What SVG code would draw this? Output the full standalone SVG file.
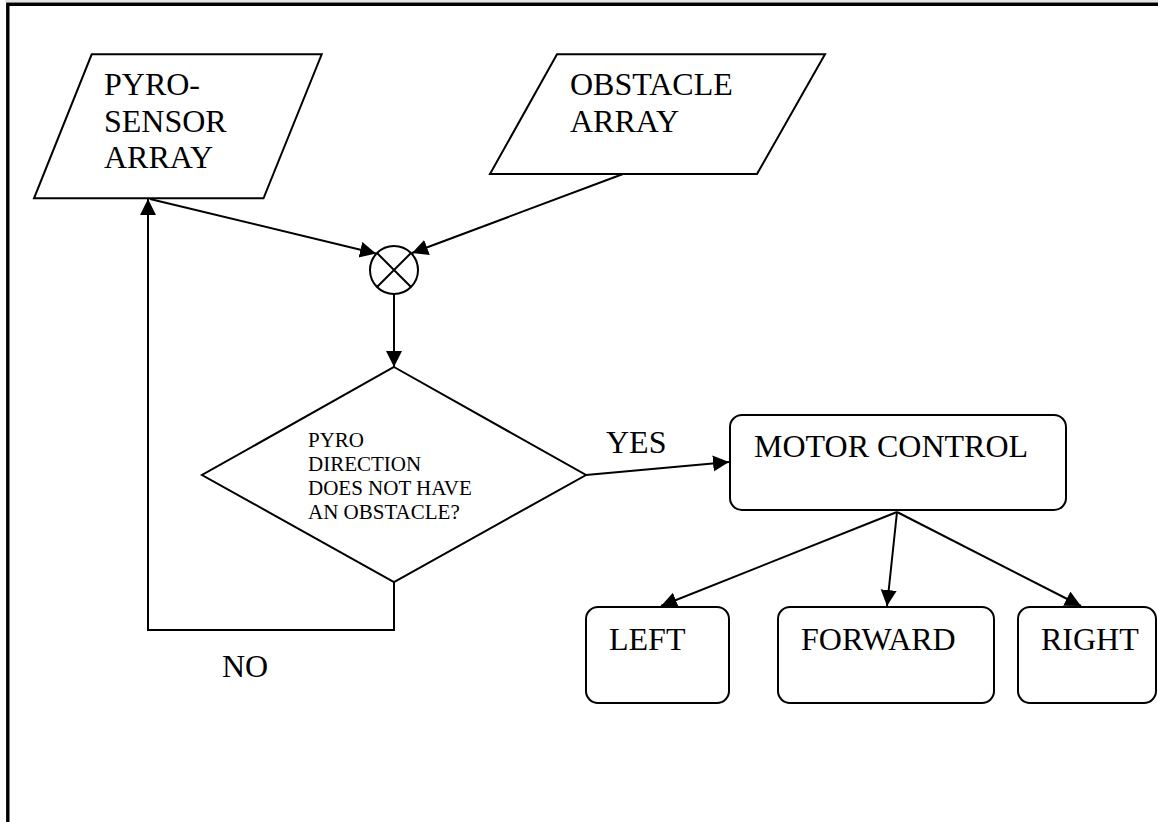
<svg xmlns="http://www.w3.org/2000/svg" width="1158" height="822" viewBox="0 0 1158 822">
<defs>
<marker id="ah" markerUnits="userSpaceOnUse" markerWidth="17" markerHeight="17" refX="16" refY="8" orient="auto">
<path d="M0,0 L16,8 L0,16 z" fill="#000"/>
</marker>
<style>
.s{fill:#fff;stroke:#000;stroke-width:2}
.c{fill:none;stroke:#000;stroke-width:2}
.t{font-family:"Liberation Serif","Times New Roman",serif;font-size:32px;fill:#000}
.d{font-family:"Liberation Serif","Times New Roman",serif;font-size:21px;fill:#000}
</style>
</defs>
<rect width="1158" height="822" fill="#fff"/>
<line x1="5" y1="1" x2="1158" y2="1" stroke="#c8c8c8" stroke-width="1"/>
<path d="M7.8,822 L7.8,4.3 L1158,4.3" fill="none" stroke="#000" stroke-width="3.4"/>
<g id="connectors">
<path class="c" d="M150,199 L376,253.5" marker-end="url(#ah)"/>
<path class="c" d="M623,174 L412,253" marker-end="url(#ah)"/>
<path class="c" d="M394,294 L394,367" marker-end="url(#ah)"/>
<path class="c" d="M586,475 L729,462" marker-end="url(#ah)"/>
<path class="c" d="M394,582 L394,630 L148,630 L148,199" marker-end="url(#ah)"/>
<path class="c" d="M897,512 L661,606" marker-end="url(#ah)"/>
<path class="c" d="M897,512 L887,606" marker-end="url(#ah)"/>
<path class="c" d="M897,512 L1081,606" marker-end="url(#ah)"/>
<text class="t" x="606" y="453">YES</text>
<text class="t" x="222" y="677">NO</text>
</g>
<g id="pyro">
<polygon class="s" points="91.7,54.3 321.7,54.3 263.5,198.3 34,198.3"/>
<text class="t" x="104" y="95">PYRO-</text>
<text class="t" x="104" y="132">SENSOR</text>
<text class="t" x="104" y="168">ARRAY</text>
</g>
<g id="obstacle">
<polygon class="s" points="557,54.3 825,54.3 757,174 490,174"/>
<text class="t" x="570" y="95">OBSTACLE</text>
<text class="t" x="570" y="132">ARRAY</text>
</g>
<g id="junction">
<circle class="s" cx="394" cy="270" r="24"/>
<path class="c" d="M377,253 L411,287 M411,253 L377,287"/>
</g>
<g id="decision">
<polygon class="s" points="394,367 586,475 394,582 202,475"/>
<text class="d" x="308" y="447">PYRO</text>
<text class="d" x="308" y="471">DIRECTION</text>
<text class="d" x="308" y="495">DOES NOT HAVE</text>
<text class="d" x="308" y="519">AN OBSTACLE?</text>
</g>
<g id="motor">
<rect class="s" x="730" y="415" width="336" height="95" rx="12"/>
<text class="t" x="754" y="457">MOTOR CONTROL</text>
</g>
<g id="left">
<rect class="s" x="586" y="607" width="143" height="96" rx="12"/>
<text class="t" x="609" y="650">LEFT</text>
</g>
<g id="forward">
<rect class="s" x="778" y="607" width="216" height="96" rx="12"/>
<text class="t" x="801" y="650">FORWARD</text>
</g>
<g id="right">
<rect class="s" x="1018" y="607" width="138" height="96" rx="12"/>
<text class="t" x="1041" y="650">RIGHT</text>
</g>
</svg>
